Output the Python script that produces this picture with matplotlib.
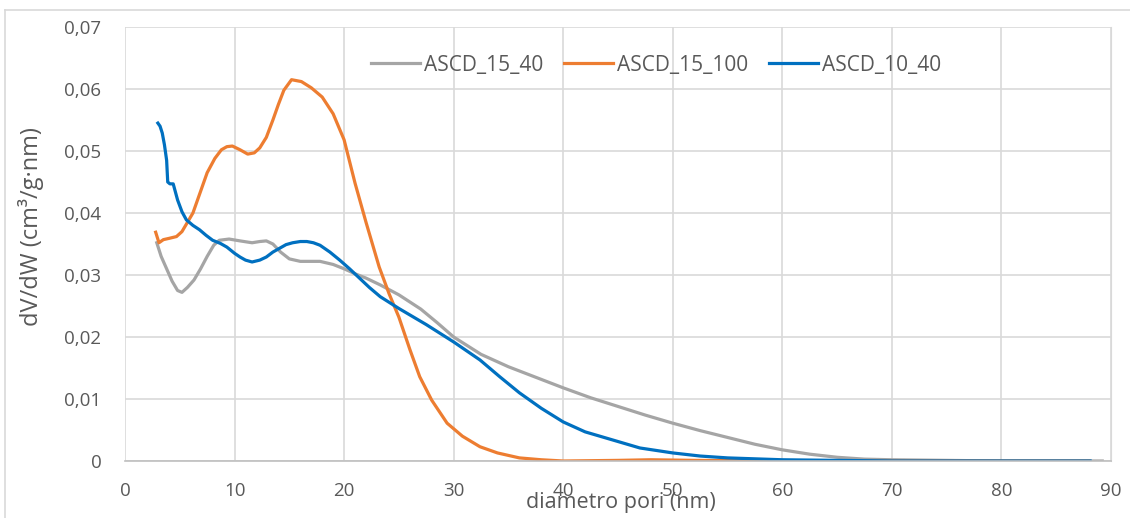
import matplotlib.pyplot as plt
from matplotlib.ticker import FuncFormatter
from matplotlib.lines import Line2D

# ASCD_15_40 (gray)
x_15_40 = [2.9, 3.3, 3.8, 4.3, 4.8, 5.2, 5.7, 6.3, 6.9, 7.5, 8.1, 8.6, 9.5, 10.5, 11.6, 12.3,
           12.9, 13.5, 14.2, 15.0, 16.0, 17.0, 17.8, 19.0, 20.0, 21.0, 22.0, 23.3, 25.0, 27.0,
           28.5, 30.0, 32.5, 35.0, 37.5, 40.0, 42.5, 45.0, 47.5, 50.0, 52.5, 55.0, 57.5, 60.0,
           62.5, 65.0, 67.5, 70.0, 75.0, 80.0, 85.0, 89.2]
y_15_40 = [0.0352, 0.0330, 0.0310, 0.0290, 0.0275, 0.0272, 0.0280, 0.0292, 0.0310, 0.0330,
           0.0348, 0.0356, 0.0358, 0.0355, 0.0352, 0.0354, 0.0355, 0.0350, 0.0337, 0.0326,
           0.0322, 0.0322, 0.0322, 0.0317, 0.0310, 0.0302, 0.0295, 0.0284, 0.0268, 0.0245,
           0.0223, 0.0200, 0.0172, 0.0152, 0.0135, 0.0118, 0.0102, 0.0088, 0.0074, 0.0061,
           0.0049, 0.0038, 0.0027, 0.0018, 0.0011, 0.0006, 0.0003, 0.0002, 0.0001, 0.0, 0.0, 0.0]

# ASCD_15_100 (orange)
x_15_100 = [2.8, 3.1, 3.5, 4.0, 4.7, 5.2, 5.7, 6.2, 6.8, 7.5, 8.2, 8.8, 9.3, 9.8, 10.5, 11.2,
            11.8, 12.3, 12.9, 13.5, 14.0, 14.5, 15.2, 16.1, 17.0, 18.0, 19.0, 20.0, 21.0,
            22.0, 23.2, 24.1, 25.0, 26.0, 26.9, 28.0, 29.4, 30.8, 32.4, 34.0, 36.0, 38.0,
            40.0, 45.0, 48.0, 52.0, 60.0, 70.0, 80.0, 88.0]
y_15_100 = [0.0369, 0.0352, 0.0357, 0.0359, 0.0362, 0.0370, 0.0385, 0.0400, 0.0430, 0.0465,
            0.0488, 0.0502, 0.0507, 0.0508, 0.0502, 0.0495, 0.0497, 0.0505, 0.0522, 0.0550,
            0.0575, 0.0598, 0.0615, 0.0612, 0.0602, 0.0587, 0.0560, 0.0518, 0.0448, 0.0385,
            0.0313, 0.0270, 0.0232, 0.0180, 0.0136, 0.0098, 0.0061, 0.0040, 0.0023, 0.0013,
            0.0005, 0.0002, 0.0, 0.0001, 0.0002, 0.0001, 0.0, 0.0, 0.0, 0.0]

# ASCD_10_40 (blue)
x_10_40 = [3.0, 3.2, 3.4, 3.6, 3.8, 3.9, 4.1, 4.4, 4.8, 5.2, 5.6, 6.2, 6.8, 7.4, 8.0, 8.7,
           9.3, 10.0, 10.5, 11.0, 11.6, 12.3, 12.9, 13.5, 14.1, 14.7, 15.3, 16.0, 16.6, 17.2,
           17.8, 18.7, 19.6, 20.5, 21.4, 22.3, 23.3, 25.0, 27.5, 30.0, 32.4, 34.2, 36.0,
           38.0, 40.0, 42.0, 44.5, 47.0, 50.0, 52.5, 55.0, 60.0, 65.0, 70.0, 80.0, 88.1]
y_10_40 = [0.0545, 0.0540, 0.0529, 0.0510, 0.0485, 0.0450, 0.0447, 0.0447, 0.0421, 0.0402,
           0.0389, 0.0380, 0.0373, 0.0364, 0.0356, 0.0351, 0.0345, 0.0335, 0.0329, 0.0324,
           0.0321, 0.0324, 0.0329, 0.0337, 0.0343, 0.0349, 0.0352, 0.0354, 0.0354, 0.0352,
           0.0348, 0.0337, 0.0324, 0.0310, 0.0295, 0.0280, 0.0265, 0.0246, 0.0220, 0.0192,
           0.0163, 0.0136, 0.0110, 0.0085, 0.0063, 0.0047, 0.0034, 0.0021, 0.0013, 0.0008,
           0.0005, 0.0002, 0.0001, 0.0, 0.0, 0.0]

x_ticks = list(range(0, 100, 10))
y_ticks = [0, 0.01, 0.02, 0.03, 0.04, 0.05, 0.06, 0.07]

txt = '#595959'
plt.rcParams['font.family'] = ['Open Sans', 'DejaVu Sans']

fig = plt.figure(figsize=(11.3, 5.18), dpi=100)
ax = fig.add_axes([125 / 1130, 1 - 461 / 518, 986 / 1130, 434 / 518])

ax.plot(x_15_40, y_15_40, color='#A5A5A5', lw=2.3, label='ASCD_15_40', solid_joinstyle='round')
ax.plot(x_15_100, y_15_100, color='#ED7D31', lw=2.3, label='ASCD_15_100', solid_joinstyle='round')
ax.plot(x_10_40, y_10_40, color='#0070C0', lw=2.3, label='ASCD_10_40', solid_joinstyle='round')

ax.set_xlim(0, 90)
ax.set_ylim(0, 0.07)
ax.set_xticks(x_ticks)
ax.set_yticks(y_ticks)
ax.yaxis.set_major_formatter(FuncFormatter(lambda v, p: '0' if v == 0 else f'{v:.2f}'.replace('.', ',')))
ax.grid(True, color='#d9d9d9', lw=1.2)
ax.set_axisbelow(True)
ax.tick_params(length=0, colors=txt, labelsize=13.5)
ax.tick_params(axis='y', pad=17)
ax.tick_params(axis='x', pad=15)
for s in ['left', 'top']:
    ax.spines[s].set_visible(False)
ax.spines['right'].set_color('#d9d9d9')
ax.spines['bottom'].set_color('#bfbfbf')
ax.spines['bottom'].set_linewidth(1.2)

fig.text(31 / 1130, 1 - 227 / 518, 'dV/dW (cm³/g·nm)', color=txt, fontsize=17,
         rotation=90, ha='center', va='center')
# x label sits over the 40/50 tick labels, as in the original
fig.text(621 / 1130, 1 - 508 / 518, 'diametro pori (nm)', color=txt,
         fontsize=15.5, ha='center', va='baseline')

leg = ax.legend(loc='center', bbox_to_anchor=((656 - 125) / 986, (461 - 65) / 434), ncol=3,
                frameon=False, fontsize=15, handlelength=2.35, handletextpad=0.2,
                columnspacing=1.0, borderaxespad=0)
for t in leg.get_texts():
    t.set_color(txt)

# outer chart border
fig.add_artist(Line2D([5 / 1130, 5 / 1130], [0, 1 - 10 / 518], color='#d9d9d9', lw=1.2))
fig.add_artist(Line2D([5 / 1130, 1], [1 - 10 / 518, 1 - 10 / 518], color='#d9d9d9', lw=1.2))

fig.savefig('out.png', dpi=100)
